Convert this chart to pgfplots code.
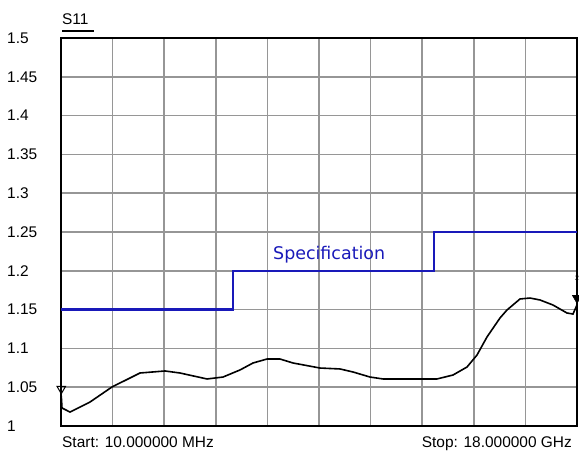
\documentclass[border=0pt]{standalone}
\usepackage{pgfplots}
\pgfplotsset{compat=1.18}
\usepackage{fontspec}
\setmainfont{Liberation Sans}
\newfontfamily\dvs{DejaVu Sans}
\definecolor{specblue}{RGB}{25,25,185}
\definecolor{gridgray}{RGB}{150,150,150}
\begin{document}
\begin{tikzpicture}
\useasboundingbox (-61bp,-26bp) rectangle (518bp,426bp);
\begin{axis}[
  scale only axis, width=516bp, height=388bp,
  xmin=0, xmax=18, ymin=1, ymax=1.5,
  xtick={0,1.8,3.6,5.4,7.2,9,10.8,12.6,14.4,16.2,18},
  xticklabels={},
  ytick={1,1.05,1.1,1.15,1.2,1.25,1.3,1.35,1.4,1.45,1.5},
  yticklabels={1,1.05,1.1,1.15,1.2,1.25,1.3,1.35,1.4,1.45,1.5},
  yticklabel style={anchor=west, inner xsep=0pt, xshift=-54bp},
  font=\fontsize{15.5}{18}\selectfont,
  major tick length=0pt,
  grid=major,
  major grid style={gridgray, line width=1.7bp},
  axis line style={black, line width=2bp},
  clip=false,
]
\addplot[specblue, line width=2.3bp] coordinates {(0,1.15)(6,1.15)(6,1.2)(13,1.2)(13,1.25)(18,1.25)};
\addplot[black, line width=1.6bp] coordinates {
(0.01,1.0387)(0.035,1.0232)(0.314,1.0180)(1.012,1.0309)(1.779,1.0503)(2.756,1.0683)
(3.628,1.0709)(4.151,1.0683)(5.093,1.0606)(5.651,1.0631)(6.244,1.0722)(6.698,1.0812)
(7.186,1.0863)(7.640,1.0863)(8.093,1.0812)(9.035,1.0747)(9.733,1.0735)(10.186,1.0696)
(10.779,1.0631)(11.233,1.0606)(11.930,1.0606)(12.523,1.0606)(13.116,1.0606)(13.674,1.0657)
(14.163,1.0760)(14.512,1.0915)(14.860,1.1147)(15.314,1.1392)(15.558,1.1495)(16.012,1.1637)
(16.360,1.1649)(16.709,1.1624)(17.163,1.1559)(17.651,1.1456)(17.860,1.1443)(18.0,1.156)};
\addplot[only marks, mark=triangle, mark size=5bp, mark options={rotate=180, black, line width=1bp, fill=white}] coordinates {(0.01,1.048)};
\addplot[only marks, mark=triangle*, mark size=5.5bp, mark options={rotate=180, black, fill=black}] coordinates {(18,1.165)};
\node[anchor=base west, inner sep=0pt, text=specblue, font=\dvs\fontsize{17.5}{20}\selectfont] at (axis cs:7.395,1.214) {Specification};
\node[anchor=base west, inner sep=0pt] at (rel axis cs:0,1) [yshift=13bp, xshift=1bp] {S11};
\draw[line width=1.8bp] (rel axis cs:0,1) ++(1bp,7bp) -- ++(32bp,0pt);
\node[anchor=base west, inner sep=0pt] at (rel axis cs:0,0) [yshift=-22bp, xshift=1bp] {Start: 10.000000 MHz};
\node[anchor=base east, inner sep=0pt] at (rel axis cs:1,0) [yshift=-22bp, xshift=-5bp] {Stop: 18.000000 GHz};
\node[inner sep=0pt, font=\fontsize{7}{8}\selectfont] at (axis cs:18,1.19) {2};
\end{axis}
\end{tikzpicture}
\end{document}
